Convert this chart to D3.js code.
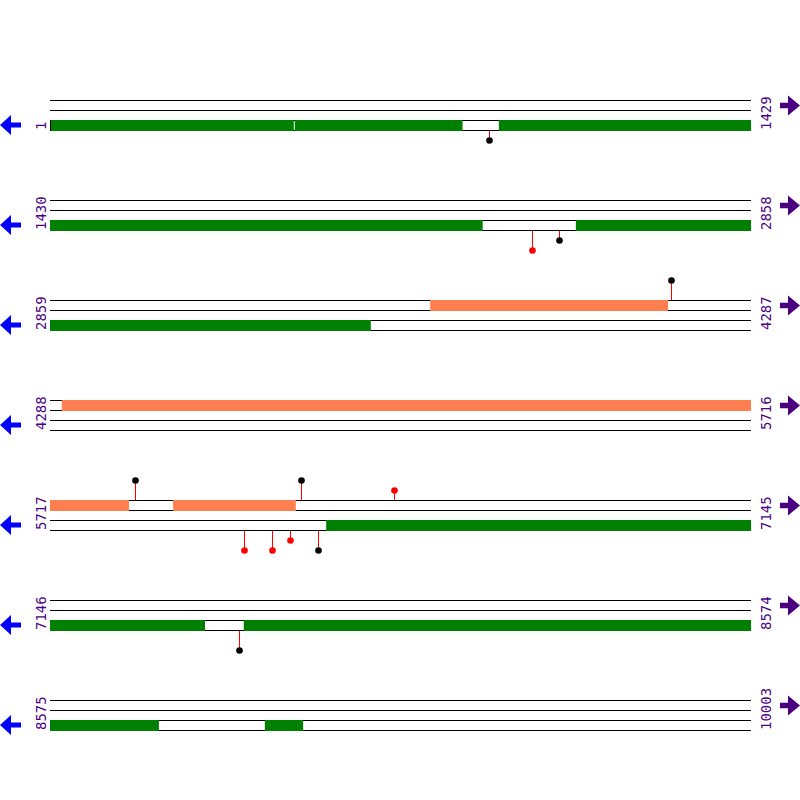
<!DOCTYPE html>
<html><head><meta charset="utf-8">
<script src="https://cdn.jsdelivr.net/npm/d3@7"></script>
<style>body{margin:0;background:#fff}svg{display:block}</style>
</head><body>
<script>
const rowStarts = [1, 1430, 2859, 4288, 5717, 7146, 8575];
const rowEnds   = [1429, 2858, 4287, 5716, 7145, 8574, 10003];
const rowLen = 1429;

// reverse-strand features (green)
const greenStarts = [1, 500, 916, 2502, 6280, 7541, 9013];
const greenEnds   = [498, 842, 2312, 3513, 7462, 8797, 9091];
// forward-strand features (orange)
const orangeStarts = [3634, 4312, 5968];
const orangeEnds   = [4119, 5878, 6218];

// variant markers
const snpPos    = [896, 2413, 2468, 4125, 5892, 6230, 6419, 6113, 6170, 6207, 6264, 7532];
const snpStrand = ['-', '-', '-', '+', '+', '+', '+', '-', '-', '-', '-', '-'];
const snpLevel  = [1, 2, 1, 2, 2, 2, 1, 2, 2, 1, 2, 2];
const snpColor  = ['black', 'red', 'black', 'black', 'black', 'black', 'red', 'red', 'red', 'red', 'black', 'black'];

const W = 800, H = 800;
const svg = d3.select('body').append('svg').attr('width', W).attr('height', H);

const rowY = d3.scaleLinear().domain([0, 1]).range([100, 200]);
const x0 = 50, x1 = 751;

rowStarts.forEach((rs, i) => {
  const top = rowY(i);
  const x = d3.scaleLinear().domain([rs, rs + rowLen]).range([x0, x1]);
  const g = svg.append('g');
  const clip = (s, e) => [Math.max(s, rs), Math.min(e, rs + rowLen)];

  // track lines
  [0, 10, 20, 30].forEach(o => {
    g.append('line').attr('x1', x0).attr('x2', x1)
      .attr('y1', top + o + 0.5).attr('y2', top + o + 0.5)
      .attr('stroke', '#000').attr('stroke-width', 1).attr('shape-rendering', 'crispEdges');
  });
  // green (reverse strand, between tracks 3 and 4)
  greenStarts.forEach((s, j) => {
    const [a, b] = clip(s, greenEnds[j]);
    if (b <= a) return;
    g.append('rect').attr('x', x(a)).attr('y', top + 20).attr('width', x(b) - x(a)).attr('height', 11)
      .attr('fill', '#008000');
    if (s === a && s === rs) {
      g.append('line').attr('x1', x0 + 0.5).attr('x2', x0 + 0.5).attr('y1', top + 20).attr('y2', top + 31)
        .attr('stroke', '#000').attr('stroke-width', 1).attr('shape-rendering', 'crispEdges');
    }
  });
  // orange (forward strand, between tracks 1 and 2)
  orangeStarts.forEach((s, j) => {
    const [a, b] = clip(s, orangeEnds[j]);
    if (b <= a) return;
    g.append('rect').attr('x', x(a)).attr('y', top).attr('width', x(b) - x(a)).attr('height', 11)
      .attr('fill', '#ff7f50');
  });

  // variants
  snpPos.forEach((p, j) => {
    if (p < rs || p > rowEnds[i]) return;
    const px = Math.floor(x(p)) + 0.5;
    const len = snpLevel[j] * 10;
    let y1, y2;
    if (snpStrand[j] === '+') { y1 = top; y2 = top - len; }
    else { y1 = top + 31; y2 = top + 30 + len; }
    g.append('line').attr('x1', px).attr('x2', px).attr('y1', y1).attr('y2', y2)
      .attr('stroke', 'red').attr('stroke-width', 1);
    g.append('circle').attr('cx', px).attr('cy', y2 + 0.5).attr('r', 3.3).attr('fill', snpColor[j]);
  });

  // labels
  g.append('text').attr('transform', `translate(46,${top + 30}) rotate(-90)`)
    .attr('font-family', 'DejaVu Sans Mono, monospace').attr('font-size', 14)
    .attr('fill', '#4b0082').text(rs);
  g.append('text').attr('transform', `translate(771,${top + 30}) rotate(-90)`)
    .attr('font-family', 'DejaVu Sans Mono, monospace').attr('font-size', 14)
    .attr('fill', '#4b0082').text(rowEnds[i]);

  // arrows
  const lc = top + 25;
  g.append('path').attr('d', `M0,${lc} L11,${lc - 10} L11,${lc - 2.5} L21,${lc - 2.5} L21,${lc + 2.5} L11,${lc + 2.5} L11,${lc + 10} Z`)
    .attr('fill', '#0000ff');
  const rc = top + 5.5;
  g.append('path').attr('d', `M800,${rc} L788,${rc - 10} L788,${rc - 2.8} L780,${rc - 2.8} L780,${rc + 2.8} L788,${rc + 2.8} L788,${rc + 10} Z`)
    .attr('fill', '#4b0082');
});
</script>
</body></html>
